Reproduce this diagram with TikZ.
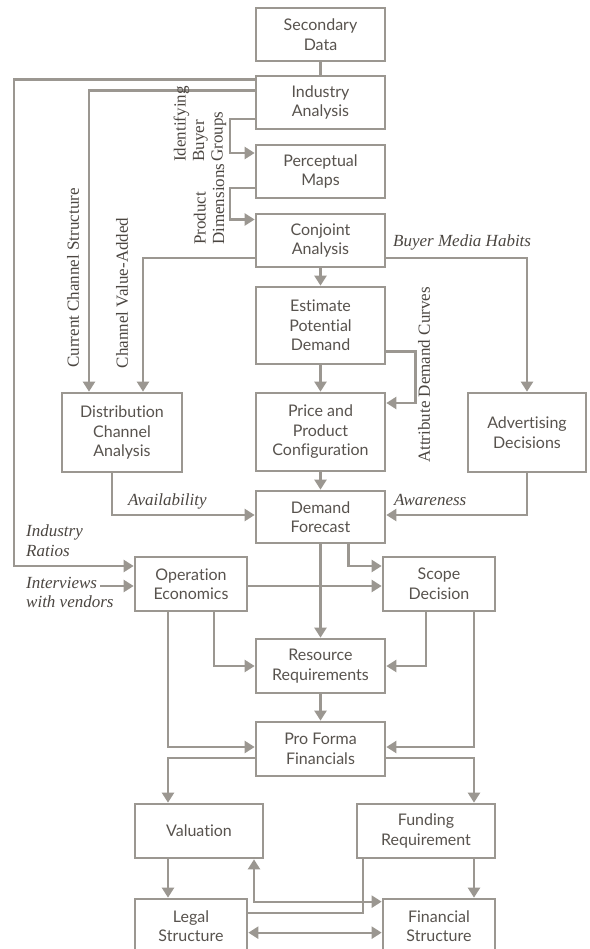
\documentclass[tikz,border=0pt]{standalone}
\usepackage{fontspec}
\setmainfont{Liberation Serif}
\newfontfamily\boxfont[Ligatures=NoCommon]{Lato}
\usepackage{tikz}
\usetikzlibrary{arrows.meta}
\definecolor{flowgray}{RGB}{155,151,145}
\definecolor{flowtext}{RGB}{88,83,78}
\definecolor{tagtext}{RGB}{75,70,65}

\begin{document}
\begin{tikzpicture}[x=1pt,y=-1pt,
    stage/.style={draw=flowgray,line width=2.7pt,fill=white,align=center,inner sep=2pt,
        font=\boxfont\fontsize{16}{19.5}\selectfont,text=flowtext,minimum width=129pt,minimum height=53pt},
    tag/.style={font=\fontsize{17}{19.5}\selectfont\itshape,text=tagtext,inner sep=0pt,align=left},
    vtag/.style={font=\fontsize{17}{18.5}\selectfont,text=tagtext,inner sep=0pt,rotate=90},
    link/.style={draw=flowgray,line width=2.3pt},
    arr/.style={link,-{Triangle[length=10pt,width=12pt]}},
    dblarr/.style={link,{Triangle[length=10pt,width=12pt]}-{Triangle[length=10pt,width=12pt]}}]
                \useasboundingbox (0,0) rectangle (589,949);
                \clip (0,0) rectangle (589,949);

                \node[stage] (sec) at (320.5,34.5) {Secondary\\Data};
                \node[stage] (ind) at (320.5,102.5) {Industry\\Analysis};
                \node[stage] (per) at (320.5,171.5) {Perceptual\\Maps};
                \node[stage] (con) at (320.5,240.5) {Conjoint\\Analysis};
                \node[stage,minimum height=77pt] (est) at (320.5,325.5) {Estimate\\Potential\\Demand};
                \node[stage,minimum height=78pt] (pri) at (320.5,432) {Price and\\Product\\Configuration};
                \node[stage,minimum height=79pt,minimum width=120pt] (dist) at (122,432.5) {Distribution\\Channel\\Analysis};
                \node[stage,minimum height=79pt,minimum width=118pt] (adv) at (527,432.5) {Advertising\\Decisions};
                \node[stage,minimum height=52pt] (dem) at (320.5,517) {Demand\\Forecast};
                \node[stage,minimum width=112pt,minimum height=54pt] (ope) at (191,584) {Operation\\Economics};
                \node[stage,minimum width=112pt,minimum height=54pt] (sco) at (439,584) {Scope\\Decision};
                \node[stage,minimum height=54pt] (res) at (320.5,666) {Resource\\Requirements};
                \node[stage,minimum height=54pt] (pro) at (320.5,749) {Pro Forma\\Financials};
                \node[stage,minimum width=128pt,minimum height=54pt] (val) at (199,831) {Valuation};
                \node[stage,minimum width=138pt,minimum height=54pt] (fun) at (426,831) {Funding\\Requirement};
                \node[stage,minimum width=112pt,minimum height=54pt] (leg) at (191,926) {Legal\\Structure};
                \node[stage,minimum width=112pt,minimum height=54pt] (fin) at (439,926) {Financial\\Structure};

                \draw[link] (sec) -- (ind);
                \draw[arr] ([yshift=-5pt]ind.north west) -- ++(-241,0) |- ([yshift=18pt]ope.west);
                \draw[arr] ([yshift=-16pt]ind.north west) -| ([xshift=-33pt]dist.north);
                \draw[arr] ([yshift=11pt]ind.south west) -- ++(-25,0) |- ([yshift=18.5pt]per.west);
                \draw[arr] ([yshift=11pt]per.south west) -- ++(-25,0) |- ([yshift=21pt]con.west);
                \draw[arr] ([yshift=10pt]con.south west) -| ([xshift=21pt]dist.north);
                \draw[arr] (con) -- (est);
                \draw[arr] ([yshift=10pt]con.south east) -| (adv.north);
                \draw[arr] (est) -- (pri);
                \draw[arr] ([yshift=14pt]est.south east) -- ++(29,0) |- ([yshift=29pt]pri.east);
                \draw[arr] (pri) -- (dem);
                \draw[arr] ([xshift=-10pt]dist.south) |- ([yshift=2pt]dem.west);
                \draw[arr] (adv.south) |- ([yshift=2pt]dem.east);
                \draw[arr] ([xshift=28pt]dem.south) |- ([yshift=18pt]sco.west);
                \draw[arr] (dem) -- (res);
                \draw[arr] ([yshift=-2pt]ope.east) -- ([yshift=-2pt]sco.west);
                \coordinate (intvstart) at (100,586);
                \draw[arr] (intvstart) -- (intvstart -| ope.west);
                \draw[arr] ([xshift=23pt]ope.south) |- (res.west);
                \draw[arr] ([xshift=-13pt]sco.south) |- (res.east);
                \draw[arr] ([xshift=-23pt]ope.south) |- ([yshift=2pt]pro.west);
                \draw[arr] ([xshift=35pt]sco.south) |- ([yshift=2pt]pro.east);
                \draw[arr] (res) -- (pro);
                \draw[arr] ([yshift=-9pt]pro.west) -| ([xshift=-31pt]val.north);
                \draw[arr] ([yshift=-9pt]pro.east) -| ([xshift=48pt]fun.north);
                \draw[arr] ([xshift=-31pt]val.south) -- ([xshift=-23pt]leg.north);
                \draw[arr] ([xshift=48pt]fun.south) -- ([xshift=35pt]fin.north);
                \draw[link] ([xshift=-63pt]fun.south) |- ([yshift=-15pt]leg.north east);
                \draw[dblarr] ([xshift=55pt]val.south) |- ([yshift=-4pt]fin.north west);
                \draw[dblarr] ([yshift=-35pt]leg.north east) -- ([yshift=-35pt]fin.north west);

                \node[vtag] (ccs) at (73,278) {Current Channel Structure};
                \node[vtag] (cva) at (122,293) {Channel Value-Added};
                \node[vtag,anchor=west,align=left] (ibg) at (200,162) {Identifying\\Buyer\\Groups};
                \node[vtag,anchor=west,align=left] (pdim) at (209,245) {Product\\Dimensions};
                \node[vtag] (adc) at (424,375) {Attribute Demand Curves};
                \node[tag,anchor=base west] (bmh) at (393,247) {Buyer Media Habits};
                \node[tag,anchor=base west] (avail) at (128,505) {Availability};
                \node[tag,anchor=base west] (aware) at (394,505) {Awareness};
                \node[tag,anchor=north west] (iratio) at (26,525) {Industry\\Ratios};
                \node[tag,anchor=north west] (intv) at (26,577) {Interviews\\with vendors};
            \end{tikzpicture}
\end{document}
